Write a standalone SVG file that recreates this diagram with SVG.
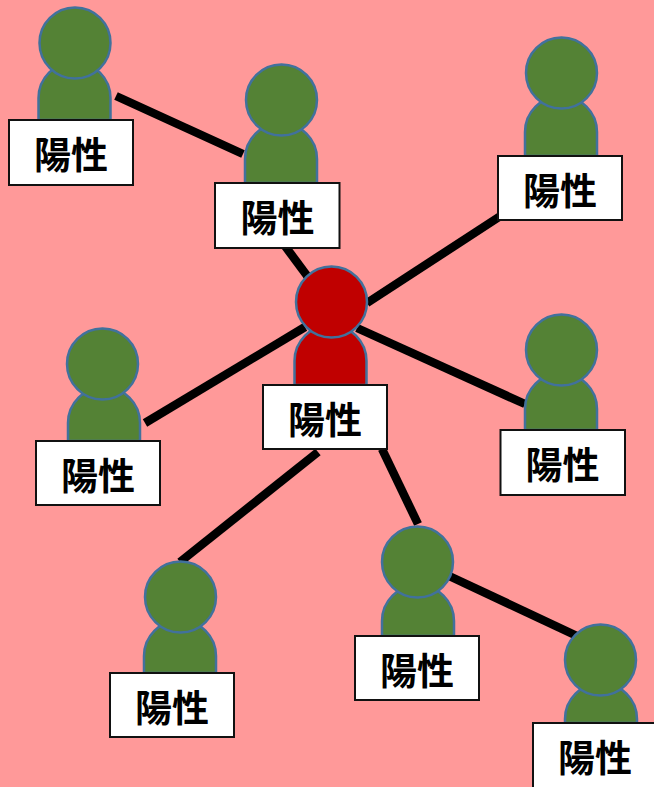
<svg xmlns="http://www.w3.org/2000/svg" width="654" height="787" viewBox="0 0 654 787">
<style>
.b,.h{stroke:#41719c;stroke-width:2.5}
.g{fill:#548235}
.r{fill:#c00000}
.l{fill:#fff;stroke:#111;stroke-width:2}
.t{font-family:"Noto Sans CJK JP","Noto Sans CJK SC",sans-serif;font-size:37px;font-weight:700;fill:#000;text-anchor:middle}
#connectors line{stroke:#000;stroke-width:8.500}
</style>
<rect width="654" height="787" fill="#ff9999"/>
<g id="connectors">
<line x1="116" y1="96" x2="243" y2="154"/>
<line x1="285" y1="246" x2="308" y2="277"/>
<line x1="367" y1="303" x2="502" y2="215"/>
<line x1="357" y1="328" x2="525" y2="404"/>
<line x1="305" y1="327" x2="145" y2="423"/>
<line x1="318" y1="452" x2="180" y2="562"/>
<line x1="382" y1="449" x2="418" y2="524"/>
<line x1="447" y1="575" x2="577" y2="636"/>
</g>
<g id="p1"><path class="b g" d="M38.500 120V98a36 36 0 0 1 72 0V120Z"/><circle class="h g" cx="75" cy="43" r="35.500"/><rect class="l" x="9" y="120" width="124" height="65"/><text class="t" x="71" y="169">陽性</text></g>
<g id="p2"><path class="b g" d="M245 183V159a36 36 0 0 1 72 0V183Z"/><circle class="h g" cx="281.500" cy="100" r="35.500"/><rect class="l" x="215" y="183" width="124.500" height="65"/><text class="t" x="277.500" y="232">陽性</text></g>
<g id="p3"><path class="b g" d="M525 156V132a36 36 0 0 1 72 0V156Z"/><circle class="h g" cx="561.500" cy="73" r="35.500"/><rect class="l" x="498" y="156" width="124" height="64"/><text class="t" x="560" y="205">陽性</text></g>
<g id="p4"><path class="b r" d="M294.500 385V361a36 36 0 0 1 72 0V385Z"/><circle class="h r" cx="331.500" cy="302" r="35.500"/><rect class="l" x="263" y="385" width="124" height="64"/><text class="t" x="325" y="434">陽性</text></g>
<g id="p5"><path class="b g" d="M525 430V409a36 36 0 0 1 72 0V430Z"/><circle class="h g" cx="561.500" cy="350" r="35.500"/><rect class="l" x="500.500" y="430" width="124.500" height="65"/><text class="t" x="562.500" y="479">陽性</text></g>
<g id="p6"><path class="b g" d="M68 441V423a36 36 0 0 1 72 0V441Z"/><circle class="h g" cx="102.500" cy="364" r="35.500"/><rect class="l" x="36" y="441" width="124" height="64"/><text class="t" x="98" y="490">陽性</text></g>
<g id="p7"><path class="b g" d="M144 673V656a36 36 0 0 1 72 0V673Z"/><circle class="h g" cx="180.500" cy="597" r="35.500"/><rect class="l" x="110" y="673" width="124" height="64"/><text class="t" x="172" y="722">陽性</text></g>
<g id="p8"><path class="b g" d="M382 636V621a36 36 0 0 1 72 0V636Z"/><circle class="h g" cx="417.500" cy="562" r="35.500"/><rect class="l" x="355" y="636" width="124" height="64"/><text class="t" x="417" y="685">陽性</text></g>
<g id="p9"><path class="b g" d="M565 723V719a36 36 0 0 1 72 0V723Z"/><circle class="h g" cx="600.500" cy="660" r="35.500"/><rect class="l" x="533" y="723" width="125" height="66"/><text class="t" x="595" y="772">陽性</text></g>
</svg>
